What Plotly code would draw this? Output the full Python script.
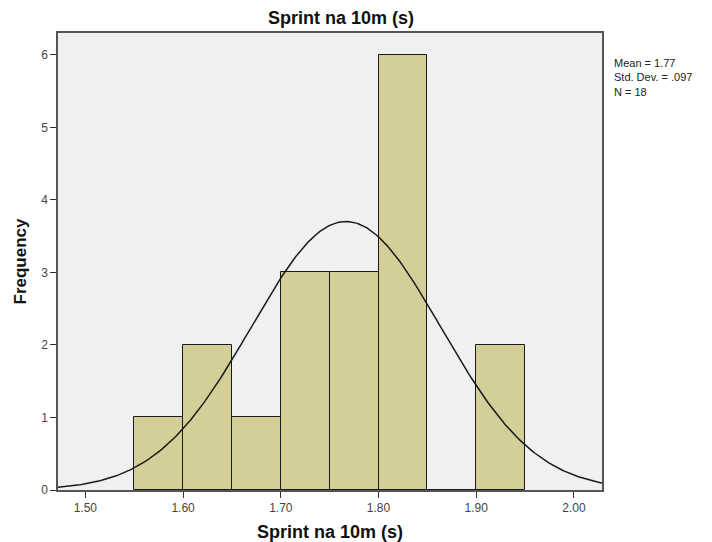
import numpy as np
import plotly.graph_objects as go

# Data
bin_starts = [1.55, 1.60, 1.65, 1.70, 1.75, 1.80, 1.85, 1.90]
counts = [1, 2, 1, 3, 3, 6, 0, 2]
bin_width = 0.05
mean_val = 1.77
mean_exact = 1.7667
sd_val = 0.097
n_val = 18
x_ticks = [1.50, 1.60, 1.70, 1.80, 1.90, 2.00]
x_tick_labels = ["1.50", "1.60", "1.70", "1.80", "1.90", "2.00"]
y_ticks = [0, 1, 2, 3, 4, 5, 6]

x_range = [1.472, 2.0287]
y_range = [0, 6.30]

centers = [s + bin_width / 2 for s in bin_starts]

fig = go.Figure()
fig.add_trace(go.Bar(
    x=centers, y=counts, width=[bin_width] * len(counts),
    marker=dict(color="#D4CF98", line=dict(color="#1a1a1a", width=1)),
    hoverinfo="skip",
))

# normal curve from stated statistics
xs = np.linspace(x_range[0], x_range[1], 300)
ys = n_val * bin_width / (sd_val * np.sqrt(2 * np.pi)) * np.exp(-0.5 * ((xs - mean_exact) / sd_val) ** 2)
fig.add_trace(go.Scatter(x=xs, y=ys, mode="lines",
                         line=dict(color="#1a1a1a", width=1.5), hoverinfo="skip"))

fig.update_layout(
    width=712, height=542,
    margin=dict(l=58, r=110, t=33, b=52, autoexpand=False),
    paper_bgcolor="white",
    plot_bgcolor="#F0F0F0",
    showlegend=False,
    bargap=0,
    font=dict(family="Liberation Sans, Arial, sans-serif", color="#333333"),
    title=dict(text="<b>Sprint na 10m (s)</b>", x=0.479, xanchor="center", y=0.968, yanchor="middle",
               font=dict(size=18, color="#111111")),
)
fig.update_xaxes(
    range=x_range, tickvals=x_ticks, ticktext=x_tick_labels,
    ticks="outside", ticklen=6, tickcolor="#333333", tickfont=dict(size=12, color="#444444"),
    showgrid=False, zeroline=False, automargin=False,
    showline=True, linecolor="#555555", linewidth=1.5, mirror=True,
    title=dict(text="<b>Sprint na 10m (s)</b>", font=dict(size=18, color="#111111"), standoff=11),
)
fig.update_yaxes(
    range=y_range, tickvals=y_ticks,
    ticks="outside", ticklen=6, tickcolor="#333333", tickfont=dict(size=12, color="#444444"),
    showgrid=False, zeroline=False, automargin=False,
    showline=True, linecolor="#555555", linewidth=1.5, mirror=True,
    title=dict(text="<b>Frequency</b>", font=dict(size=17, color="#111111"), standoff=10),
)

fig.add_annotation(
    text="Mean = %.2f<br>Std. Dev. = %s<br>N = %d" % (mean_val, ("%.3f" % sd_val).lstrip("0"), n_val),
    xref="paper", yref="paper", x=1.018, y=0.952, xanchor="left", yanchor="top",
    showarrow=False, align="left", font=dict(size=11, color="#222222"),
)

fig.write_html("out.html", post_script="document.body.style.margin='0';",
               config={"displayModeBar": False})
